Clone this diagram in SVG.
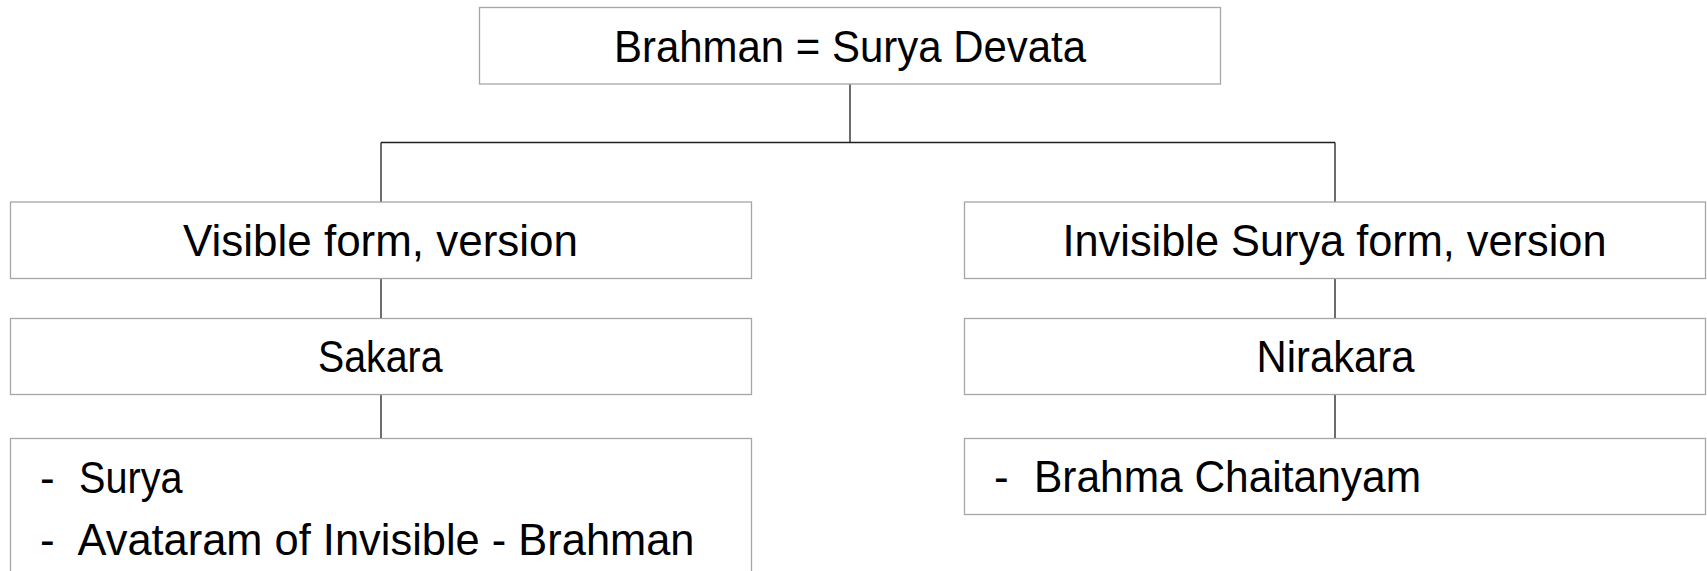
<svg xmlns="http://www.w3.org/2000/svg" width="1707" height="571" viewBox="0 0 1707 571">
<style>
.box{fill:#ffffff;stroke:#a6a6a6;stroke-width:1.3}
.t{font-family:"Liberation Sans",Arial,sans-serif;font-size:44px;fill:#000000}
.c{fill:none;stroke:#1f1f1f;stroke-width:1.3}
</style>
<rect x="0" y="0" width="1707" height="571" fill="#ffffff"/>
<g id="connectors">
<path class="c" d="M850,84 V142.5 M381,142.5 H1335 M381,142.5 V202 M1335,142.5 V202"/>
<path class="c" d="M381,278.5 V318.5 M381,394.5 V438.5"/>
<path class="c" d="M1335,278.5 V318.5 M1335,394.5 V438.5"/>
</g>
<g id="root">
<rect class="box" x="479.5" y="7.5" width="741" height="76.5"/>
<text class="t" x="614" y="61.5" textLength="472" lengthAdjust="spacingAndGlyphs">Brahman = Surya Devata</text>
</g>
<g id="visible">
<rect class="box" x="10.5" y="202" width="741" height="76.5"/>
<text class="t" x="183" y="255.5" textLength="395" lengthAdjust="spacingAndGlyphs">Visible form, version</text>
</g>
<g id="invisible">
<rect class="box" x="964.5" y="202" width="741" height="76.5"/>
<text class="t" x="1062.5" y="255.5" textLength="544" lengthAdjust="spacingAndGlyphs">Invisible Surya form, version</text>
</g>
<g id="sakara">
<rect class="box" x="10.5" y="318.5" width="741" height="76"/>
<text class="t" x="318" y="372" textLength="124.5" lengthAdjust="spacingAndGlyphs">Sakara</text>
</g>
<g id="nirakara">
<rect class="box" x="964.5" y="318.5" width="741" height="76"/>
<text class="t" x="1256.5" y="372" textLength="158" lengthAdjust="spacingAndGlyphs">Nirakara</text>
</g>
<g id="sakara-items">
<rect class="box" x="10.5" y="438.5" width="741" height="150"/>
<text class="t" x="40" y="493">-</text>
<text class="t" x="79" y="493" textLength="103.5" lengthAdjust="spacingAndGlyphs">Surya</text>
<text class="t" x="40" y="555">-</text>
<text class="t" x="77.5" y="555" textLength="617" lengthAdjust="spacingAndGlyphs">Avataram of Invisible - Brahman</text>
</g>
<g id="nirakara-items">
<rect class="box" x="964.5" y="438.5" width="741" height="76"/>
<text class="t" x="994" y="492">-</text>
<text class="t" x="1034" y="492" textLength="387" lengthAdjust="spacingAndGlyphs">Brahma Chaitanyam</text>
</g>
</svg>
